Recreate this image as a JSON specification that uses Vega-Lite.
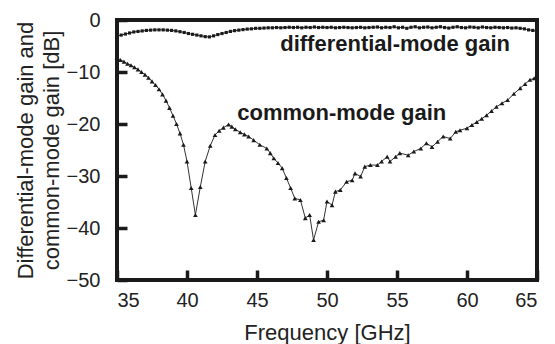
{
  "$schema": "https://vega.github.io/schema/vega-lite/v6.json",
  "width": 420,
  "height": 260,
  "autosize": "none",
  "padding": {"left": 117, "top": 20, "right": 18, "bottom": 64},
  "background": "white",
  "config": {
    "view": {"stroke": "#1a1a1a", "strokeWidth": 4, "fill": null},
    "font": "Liberation Sans",
    "axis": {
      "domain": false, "grid": false, "zindex": 1,
      "tickColor": "#1a1a1a", "tickWidth": 3.5, "tickSize": 10, "offset": -10,
      "labelFont": "Liberation Sans", "labelFontSize": 20, "labelColor": "#222",
      "titleFont": "Liberation Sans", "titleFontSize": 22, "titleFontWeight": "normal", "titleColor": "#222"
    }
  },
  "datasets": {
    "cm": [
      {"f":35.0,"g":-7.2},{"f":35.25,"g":-7.7},{"f":35.5,"g":-8.0},{"f":35.75,"g":-8.4},{"f":36.0,"g":-8.7},{"f":36.25,"g":-9.1},{"f":36.5,"g":-9.5},{"f":36.75,"g":-10.0},{"f":37.0,"g":-10.5},{"f":37.25,"g":-11.1},{"f":37.5,"g":-11.8},{"f":37.75,"g":-12.5},{"f":38.0,"g":-13.3},{"f":38.25,"g":-14.3},{"f":38.5,"g":-15.5},{"f":38.75,"g":-16.9},{"f":39.0,"g":-18.4},{"f":39.25,"g":-20.0},{"f":39.5,"g":-21.8},{"f":39.75,"g":-24.0},{"f":40.0,"g":-27.2},{"f":40.3,"g":-32.3},{"f":40.6,"g":-37.5},{"f":40.95,"g":-32.1},{"f":41.3,"g":-27.2},{"f":41.66,"g":-24.2},{"f":42.0,"g":-22.1},{"f":42.3,"g":-21.3},{"f":42.6,"g":-20.7},{"f":42.97,"g":-20.1},{"f":43.2,"g":-20.5},{"f":43.45,"g":-21.0},{"f":43.8,"g":-21.6},{"f":44.1,"g":-22.0},{"f":44.4,"g":-22.4},{"f":44.76,"g":-23.1},{"f":45.2,"g":-24.0},{"f":45.7,"g":-24.7},{"f":45.95,"g":-25.6},{"f":46.2,"g":-26.6},{"f":46.5,"g":-27.5},{"f":46.8,"g":-28.5},{"f":47.1,"g":-30.4},{"f":47.4,"g":-32.3},{"f":47.7,"g":-34.3},{"f":48.1,"g":-34.6},{"f":48.45,"g":-38.1},{"f":48.76,"g":-37.5},{"f":49.04,"g":-42.3},{"f":49.4,"g":-38.8},{"f":49.76,"g":-38.5},{"f":50.0,"g":-34.9},{"f":50.36,"g":-35.6},{"f":50.6,"g":-33.0},{"f":50.95,"g":-32.7},{"f":51.4,"g":-31.1},{"f":51.8,"g":-30.8},{"f":52.0,"g":-29.5},{"f":52.4,"g":-30.1},{"f":52.7,"g":-28.2},{"f":53.1,"g":-27.9},{"f":53.6,"g":-27.9},{"f":53.9,"g":-27.2},{"f":54.3,"g":-26.3},{"f":54.5,"g":-27.2},{"f":54.9,"g":-26.3},{"f":55.2,"g":-25.6},{"f":55.8,"g":-26.0},{"f":56.2,"g":-25.3},{"f":56.7,"g":-24.7},{"f":57.1,"g":-23.7},{"f":57.5,"g":-24.4},{"f":57.9,"g":-23.4},{"f":58.3,"g":-22.4},{"f":58.8,"g":-22.8},{"f":59.2,"g":-21.5},{"f":59.5,"g":-21.2},{"f":60.0,"g":-20.8},{"f":60.35,"g":-20.2},{"f":60.7,"g":-19.6},{"f":61.05,"g":-19.0},{"f":61.4,"g":-18.3},{"f":61.75,"g":-17.5},{"f":62.1,"g":-16.7},{"f":62.5,"g":-16.0},{"f":62.9,"g":-15.4},{"f":63.35,"g":-14.2},{"f":63.8,"g":-13.1},{"f":64.15,"g":-12.3},{"f":64.5,"g":-11.5},{"f":64.8,"g":-11.2}
    ],
    "dm": [
      {"f":35.0,"g":-3.1},{"f":35.3,"g":-2.9},{"f":35.6,"g":-2.7},{"f":35.9,"g":-2.5},{"f":36.2,"g":-2.3},{"f":36.5,"g":-2.2},{"f":36.8,"g":-2.1},{"f":37.1,"g":-2.0},{"f":37.4,"g":-1.95},{"f":37.7,"g":-1.9},{"f":38.0,"g":-1.9},{"f":38.3,"g":-1.9},{"f":38.6,"g":-1.95},{"f":38.9,"g":-2.0},{"f":39.2,"g":-2.1},{"f":39.5,"g":-2.25},{"f":39.8,"g":-2.4},{"f":40.1,"g":-2.6},{"f":40.4,"g":-2.75},{"f":40.7,"g":-2.9},{"f":41.0,"g":-3.05},{"f":41.3,"g":-3.2},{"f":41.6,"g":-3.25},{"f":41.9,"g":-3.05},{"f":42.2,"g":-2.8},{"f":42.5,"g":-2.6},{"f":42.8,"g":-2.4},{"f":43.1,"g":-2.2},{"f":43.4,"g":-2.05},{"f":43.7,"g":-1.95},{"f":44.0,"g":-1.85},{"f":44.3,"g":-1.75},{"f":44.6,"g":-1.7},{"f":44.9,"g":-1.6},{"f":45.2,"g":-1.6},{"f":45.5,"g":-1.55},{"f":45.8,"g":-1.5},{"f":46.1,"g":-1.5},{"f":46.4,"g":-1.45},{"f":46.7,"g":-1.5},{"f":47.0,"g":-1.45},{"f":47.3,"g":-1.4},{"f":47.6,"g":-1.45},{"f":47.9,"g":-1.4},{"f":48.2,"g":-1.5},{"f":48.5,"g":-1.4},{"f":48.8,"g":-1.45},{"f":49.1,"g":-1.35},{"f":49.4,"g":-1.45},{"f":49.7,"g":-1.4},{"f":50.0,"g":-1.45},{"f":50.3,"g":-1.4},{"f":50.6,"g":-1.5},{"f":50.9,"g":-1.45},{"f":51.2,"g":-1.4},{"f":51.5,"g":-1.45},{"f":51.8,"g":-1.5},{"f":52.1,"g":-1.45},{"f":52.4,"g":-1.4},{"f":52.7,"g":-1.5},{"f":53.0,"g":-1.45},{"f":53.3,"g":-1.4},{"f":53.6,"g":-1.35},{"f":53.9,"g":-1.5},{"f":54.2,"g":-1.4},{"f":54.5,"g":-1.45},{"f":54.8,"g":-1.3},{"f":55.1,"g":-1.5},{"f":55.4,"g":-1.4},{"f":55.7,"g":-1.6},{"f":56.0,"g":-1.4},{"f":56.3,"g":-1.3},{"f":56.6,"g":-1.5},{"f":56.9,"g":-1.4},{"f":57.2,"g":-1.35},{"f":57.5,"g":-1.5},{"f":57.8,"g":-1.4},{"f":58.1,"g":-1.3},{"f":58.4,"g":-1.45},{"f":58.7,"g":-1.55},{"f":59.0,"g":-1.4},{"f":59.3,"g":-1.3},{"f":59.6,"g":-1.45},{"f":59.9,"g":-1.5},{"f":60.2,"g":-1.35},{"f":60.5,"g":-1.4},{"f":60.8,"g":-1.5},{"f":61.1,"g":-1.35},{"f":61.4,"g":-1.45},{"f":61.7,"g":-1.5},{"f":62.0,"g":-1.4},{"f":62.3,"g":-1.45},{"f":62.6,"g":-1.5},{"f":62.9,"g":-1.45},{"f":63.2,"g":-1.55},{"f":63.5,"g":-1.5},{"f":63.8,"g":-1.6},{"f":64.1,"g":-1.7},{"f":64.4,"g":-1.9},{"f":64.7,"g":-2.0},{"f":65.0,"g":-2.2}
    ],
    "labels": [
      {"label":"differential-mode gain","f":46.66,"g":-5.96},
      {"label":"common-mode gain","f":43.59,"g":-19.23}
    ]
  },
  "encoding": {
    "x": {"field":"f","type":"quantitative","scale":{"domain":[35,65],"nice":false,"zero":false},
          "axis":{"values":[35,40,45,50,55,60,65],"title":"Frequency [GHz]","labelPadding":10,"titlePadding":12}},
    "y": {"field":"g","type":"quantitative","scale":{"domain":[-50,0],"nice":false},
          "axis":{"values":[0,-10,-20,-30,-40,-50],"title":["Differential-mode gain and","common-mode gain [dB]"],"labelPadding":17,"titlePadding":3,"titleLineHeight":26}}
  },
  "layer": [
    {"data":{"name":"cm"},"mark":{"type":"line","color":"#333","strokeWidth":1}},
    {"data":{"name":"cm"},"mark":{"type":"point","shape":"triangle-up","filled":true,"color":"#1a1a1a","size":22,"opacity":1}},
    {"data":{"name":"dm"},"mark":{"type":"line","color":"#333","strokeWidth":1}},
    {"data":{"name":"dm"},"mark":{"type":"point","shape":"square","filled":true,"color":"#1a1a1a","size":10,"opacity":1}},
    {"data":{"name":"labels"},"mark":{"type":"text","align":"left","baseline":"alphabetic","fontWeight":"bold","fontSize":22,"font":"Liberation Sans","color":"#1a1a1a"},
     "encoding":{"text":{"field":"label"}}}
  ]
}
